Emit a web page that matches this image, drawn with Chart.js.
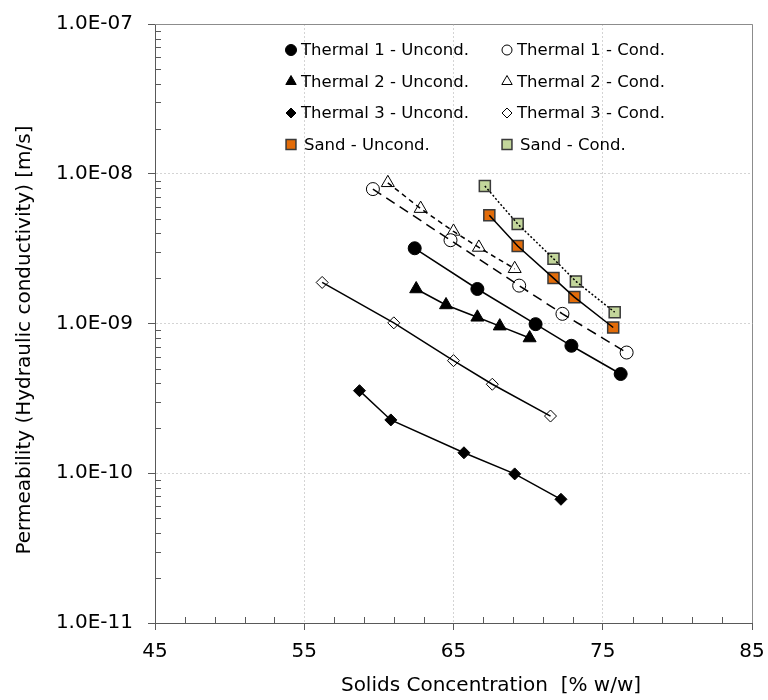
<!DOCTYPE html>
<html lang="en">
<head>
    <meta charset="UTF-8">
    <title>Permeability vs Solids Concentration</title>
    <script src="https://cdn.jsdelivr.net/npm/chart.js"></script>
    <style>
        body {
            margin: 0;
            padding: 0;
            background-color: #fff;
        }
        .container {
            width: 768px;
            height: 700px;
        }
    </style>
</head>
<body>
    <div class="container">
        <canvas id="permChart" width="768" height="700"></canvas>
    </div>

    <script>
        const xTicks = [45, 55, 65, 75, 85];
        const yTicks = [1e-11, 1e-10, 1e-9, 1e-8, 1e-7];
        const xMinorTicks = [47, 49, 51, 53, 57, 59, 61, 63, 67, 69, 71, 73, 77, 79, 81, 83];
        const yMinorSteps = [2, 3, 4, 5, 6, 7, 8, 9];

        const t1UncondX = [62.4, 66.6, 70.5, 72.9, 76.2];
        const t1UncondY = [3.18e-9, 1.70e-9, 9.9e-10, 7.1e-10, 4.6e-10];
        const t1CondX = [59.6, 64.8, 69.4, 72.3, 76.6];
        const t1CondY = [7.9e-9, 3.6e-9, 1.79e-9, 1.16e-9, 6.4e-10];
        const t2UncondX = [62.5, 64.5, 66.6, 68.1, 70.1];
        const t2UncondY = [1.70e-9, 1.33e-9, 1.10e-9, 9.6e-10, 8.0e-10];
        const t2CondX = [60.6, 62.8, 65.0, 66.7, 69.1];
        const t2CondY = [8.7e-9, 5.85e-9, 4.12e-9, 3.22e-9, 2.32e-9];
        const t3UncondX = [58.7, 60.8, 65.7, 69.1, 72.2];
        const t3UncondY = [3.56e-10, 2.27e-10, 1.37e-10, 9.9e-11, 6.7e-11];
        const t3CondX = [56.2, 61.0, 65.0, 67.6, 71.5];
        const t3CondY = [1.88e-9, 1.01e-9, 5.65e-10, 3.93e-10, 2.41e-10];
        const sandUncondX = [67.4, 69.3, 71.7, 73.1, 75.7];
        const sandUncondY = [5.28e-9, 3.29e-9, 2.01e-9, 1.50e-9, 9.4e-10];
        const sandCondX = [67.1, 69.3, 71.7, 73.2, 75.8];
        const sandCondY = [8.28e-9, 4.62e-9, 2.71e-9, 1.91e-9, 1.19e-9];

        const seriesLabels = [
            'Thermal 1 - Uncond.', 'Thermal 1 - Cond.',
            'Thermal 2 - Uncond.', 'Thermal 2 - Cond.',
            'Thermal 3 - Uncond.', 'Thermal 3 - Cond.',
            'Sand - Uncond.', 'Sand - Cond.'
        ];

        // styling per series, same order as labels
        const series = [
            { x: t1UncondX, y: t1UncondY, style: 'circle', r: 6.5, lr: 5.5, fill: '#000', border: '#000', bw: 1, dash: [] },
            { x: t1CondX, y: t1CondY, style: 'circle', r: 6.5, lr: 5, fill: '#fff', border: '#000', bw: 1, dash: [10, 6] },
            { x: t2UncondX, y: t2UncondY, style: 'triangle', r: 7.5, lr: 6, fill: '#000', border: '#000', bw: 1, dash: [] },
            { x: t2CondX, y: t2CondY, style: 'triangle', r: 7.5, lr: 6, fill: '#fff', border: '#000', bw: 1, dash: [5, 4] },
            { x: t3UncondX, y: t3UncondY, style: 'rectRot', r: 6, lr: 5, fill: '#000', border: '#000', bw: 1, dash: [] },
            { x: t3CondX, y: t3CondY, style: 'rectRot', r: 6, lr: 5, fill: '#fff', border: '#000', bw: 1, dash: [] },
            { x: sandUncondX, y: sandUncondY, style: 'rect', r: 7.8, lr: 7, fill: '#E36C09', border: '#3a3a3a', bw: 1.5, dash: [] },
            { x: sandCondX, y: sandCondY, style: 'rect', r: 7.8, lr: 7, fill: '#C3D69B', border: '#3a3a3a', bw: 1.5, dash: [2, 2] }
        ];

        function toPoints(xs, ys) {
            return xs.map((v, i) => ({ x: v, y: ys[i] }));
        }

        const datasets = [];
        series.forEach((s, i) => {
            datasets.push({
                label: seriesLabels[i],
                data: toPoints(s.x, s.y),
                showLine: false,
                pointStyle: s.style,
                pointRadius: s.r,
                pointBackgroundColor: s.fill,
                pointBorderColor: s.border,
                pointBorderWidth: s.bw,
                order: 2
            });
            datasets.push({
                label: seriesLabels[i] + ' line',
                data: toPoints(s.x, s.y),
                showLine: true,
                pointRadius: 0,
                borderColor: '#000',
                borderWidth: 1.5,
                borderDash: s.dash,
                tension: 0,
                order: 1
            });
        });

        const FONT = '"DejaVu Sans", Verdana, sans-serif';

        function expLabel(v) {
            const e = Math.round(Math.log10(v));
            return '1.0E' + (e < 0 ? '-' : '+') + String(Math.abs(e)).padStart(2, '0');
        }

        const extrasPlugin = {
            id: 'extras',
            beforeDatasetsDraw(chart) {
                const ctx = chart.ctx;
                const area = chart.chartArea;
                const xs = chart.scales.x;
                const ys = chart.scales.y;
                ctx.save();
                ctx.strokeStyle = '#595959';
                ctx.lineWidth = 1;
                ctx.beginPath();
                xMinorTicks.forEach(v => {
                    const px = Math.round(xs.getPixelForValue(v)) + 0.5;
                    ctx.moveTo(px, area.bottom);
                    ctx.lineTo(px, area.bottom - 6);
                });
                for (let k = 0; k < yTicks.length - 1; k++) {
                    yMinorSteps.forEach(m => {
                        const py = Math.round(ys.getPixelForValue(m * yTicks[k])) + 0.5;
                        ctx.moveTo(area.left, py);
                        ctx.lineTo(area.left + 6, py);
                    });
                }
                ctx.stroke();
                // top and right frame
                ctx.strokeStyle = '#8c8c8c';
                ctx.beginPath();
                ctx.moveTo(area.left, area.top + 0.5);
                ctx.lineTo(area.right + 0.5, area.top + 0.5);
                ctx.lineTo(area.right + 0.5, area.bottom);
                ctx.stroke();
                ctx.restore();
            },
            afterDraw(chart) {
                const ctx = chart.ctx;
                ctx.save();
                ctx.fillStyle = '#000';
                ctx.font = '20px ' + FONT;
                ctx.textAlign = 'center';
                ctx.textBaseline = 'middle';
                ctx.fillText('Solids Concentration  [% w/w]', 491, 686);
                ctx.translate(25, 340);
                ctx.rotate(-Math.PI / 2);
                ctx.fillText('Permeability (Hydraulic conductivity) [m/s]', 0, 0);
                ctx.restore();

                // legend inside plot, two columns
                ctx.save();
                ctx.font = '16.5px ' + FONT;
                ctx.textAlign = 'left';
                ctx.textBaseline = 'middle';
                const colX = [291, 507];
                const rowY = [50, 81.5, 113, 144.5];
                series.forEach((s, i) => {
                    const cx = colX[i % 2];
                    const cy = rowY[Math.floor(i / 2)];
                    ctx.fillStyle = s.fill;
                    ctx.strokeStyle = s.border;
                    ctx.lineWidth = s.bw;
                    Chart.helpers.drawPoint(ctx, {
                        pointStyle: s.style,
                        rotation: 0,
                        radius: s.lr,
                        borderWidth: s.bw
                    }, cx, cy);
                    ctx.fillStyle = '#000';
                    ctx.fillText(seriesLabels[i], cx + (s.style === 'rect' ? 13 : 10), cy + 1);
                });
                ctx.restore();
            }
        };

        new Chart(document.getElementById('permChart').getContext('2d'), {
            type: 'scatter',
            data: { datasets: datasets },
            options: {
                responsive: false,
                animation: false,
                layout: {
                    padding: { top: 24, right: 16, left: 0, bottom: 0 }
                },
                plugins: {
                    legend: { display: false },
                    tooltip: { enabled: false }
                },
                scales: {
                    x: {
                        type: 'linear',
                        min: 45,
                        max: 85,
                        afterBuildTicks: scale => {
                            scale.ticks = xTicks.map(v => ({ value: v }));
                        },
                        afterFit: scale => {
                            scale.height = 77;
                            scale.paddingLeft = 0;
                            scale.paddingRight = 0;
                        },
                        ticks: {
                            font: { family: FONT, size: 20 },
                            color: '#000',
                            padding: 10,
                            maxRotation: 0
                        },
                        grid: {
                            color: '#d4d4d4',
                            tickColor: '#595959',
                            tickLength: 7
                        },
                        border: {
                            color: '#595959',
                            width: 1,
                            dash: [2, 2]
                        }
                    },
                    y: {
                        type: 'logarithmic',
                        min: 1e-11,
                        max: 1e-7,
                        afterBuildTicks: scale => {
                            scale.ticks = yTicks.map(v => ({ value: v }));
                        },
                        afterFit: scale => {
                            scale.width = 155;
                            scale.paddingTop = 0;
                            scale.paddingBottom = 0;
                        },
                        ticks: {
                            font: { family: FONT, size: 20 },
                            color: '#000',
                            padding: 15,
                            callback: v => expLabel(v)
                        },
                        grid: {
                            color: '#d4d4d4',
                            tickColor: '#595959',
                            tickLength: 7
                        },
                        border: {
                            color: '#595959',
                            width: 1,
                            dash: [2, 2]
                        }
                    }
                }
            },
            plugins: [extrasPlugin]
        });
    </script>
</body>
</html>
